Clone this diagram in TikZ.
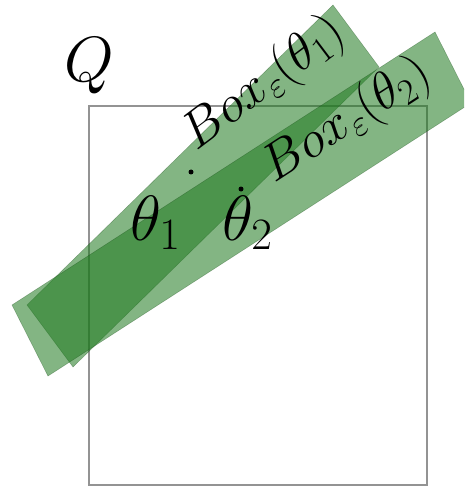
\documentclass[tikz,border=0pt]{standalone}
\usepackage{fix-cm}
\usetikzlibrary{positioning}
\definecolor{boxgreen}{RGB}{30,120,30}
\tikzset{
  boxfill/.style={fill=boxgreen,fill opacity=.55,draw=boxgreen!60!black,draw opacity=.35,line width=.5pt},
  biglabel/.style={inner sep=0pt,font=\fontsize{64}{66}\selectfont},
  boxlabel/.style={inner sep=0pt,font=\fontsize{52}{54}\selectfont},
  pt/.style={circle,fill=black,inner sep=0pt,minimum size=5pt}
}
\begin{document}
\begin{tikzpicture}[x=1pt,y=-1pt]
\useasboundingbox (0,0) rectangle (464,486);
\clip (0,0) rectangle (464,486);
% the square Q
\draw[gray!85,line width=1.3pt] (89,106) rectangle (427,485);
\node[biglabel] (q) at (89,66) {$Q$};
% corners of the two boxes
\coordinate (a1) at (333,5);
\coordinate (b1) at (379,67);
\coordinate (c1) at (73,367);
\coordinate (d1) at (27,305);
\coordinate (a2) at (435,32);
\coordinate (b2) at (471,103);
\coordinate (c2) at (48,376);
\coordinate (d2) at (12,305);
\filldraw[boxfill] (a1) -- (b1) -- (c1) -- (d1) -- cycle;
\filldraw[boxfill] (a2) -- (b2) -- (c2) -- (d2) -- cycle;
% the two points
\node[pt] (t1) at (191,172) {};
\node[pt] (t2) at (241,189) {};
\node[biglabel,anchor=base west] (l1) at (130,240) {$\theta_1$};
\node[biglabel,anchor=base west] (l2) at (222,240) {$\theta_2$};
\node[boxlabel,rotate=37] (b1lab) at (264,84) {$Box_\varepsilon(\theta_1)$};
\node[boxlabel,rotate=33] (b2lab) at (347,121) {$Box_\varepsilon(\theta_2)$};
\end{tikzpicture}
\end{document}
